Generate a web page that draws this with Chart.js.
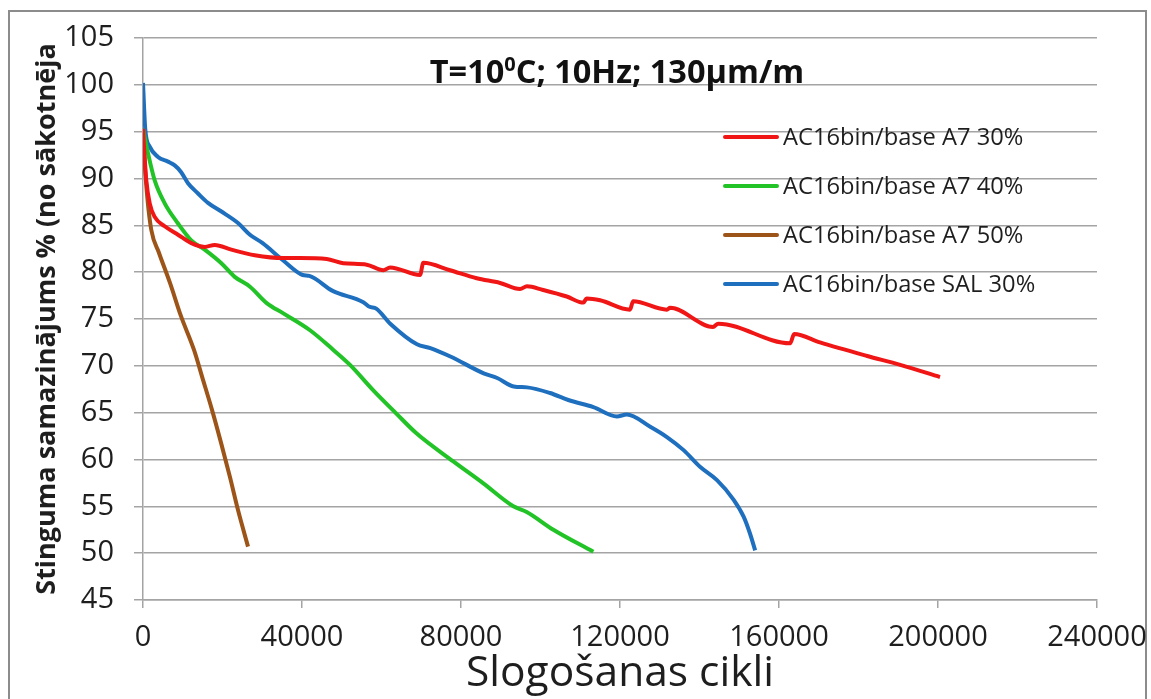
<!DOCTYPE html>
<html>
<head>
<meta charset="utf-8">
<script src="https://cdn.jsdelivr.net/npm/chart.js@4"></script>
<style>
  html, body { margin: 0; padding: 0; background: #ffffff; }
  #wrap { width: 1151px; height: 699px; position: relative; }
</style>
</head>
<body>
<div id="wrap"><canvas id="c" width="1151" height="699"></canvas></div>
<script>
// Stiffness reduction (% of initial) versus loading cycles, four mixes
const seriesLabels = [
  'AC16bin/base A7 30%',
  'AC16bin/base A7 40%',
  'AC16bin/base A7 50%',
  'AC16bin/base SAL 30%'
];
const seriesColors = ['#f01616', '#22c326', '#9c5418', '#1f6fbf'];

const a7_30_cycles = [0, 250, 830, 1690, 2940, 5460, 8810, 12150, 15520, 18040, 22220, 28100, 35300, 39500, 46220, 50400, 56280, 60460, 62150, 69690, 70520, 77240, 83960, 89820, 94850, 96600, 100640, 106600, 110800, 111600, 115000, 122500, 123300, 131800, 132600, 143400, 144700, 162800, 163800, 170300, 182200, 190500, 200500];
const a7_30_values = [95.3, 93.4, 89.8, 87.35, 85.9, 84.9, 84.0, 83.1, 82.7, 82.9, 82.4, 81.8, 81.5, 81.5, 81.4, 80.95, 80.8, 80.2, 80.5, 79.7, 81.0, 80.2, 79.35, 78.85, 78.2, 78.5, 78.1, 77.4, 76.75, 77.2, 77.0, 76.0, 76.9, 76.0, 76.2, 74.15, 74.5, 72.4, 73.4, 72.5, 71.05, 70.1, 68.8];

const a7_40_cycles = [0, 1260, 2940, 5460, 8810, 12150, 15520, 19710, 23070, 26920, 31120, 35300, 42020, 47880, 52080, 58120, 63740, 68780, 78060, 85620, 93170, 96520, 103230, 113290];
const a7_40_values = [95.3, 92.7, 89.8, 87.35, 85.2, 83.4, 82.4, 80.95, 79.5, 78.45, 76.7, 75.6, 73.8, 71.7, 70.1, 67.3, 64.9, 62.8, 59.8, 57.45, 55.0, 54.4, 52.5, 50.15];

const a7_50_cycles = [0, 430, 1080, 2090, 4030, 6790, 9560, 12830, 15100, 17360, 19620, 21890, 23900, 26420];
const a7_50_values = [95.2, 91.6, 88.0, 84.5, 82.05, 78.85, 75.3, 71.7, 68.5, 65.3, 61.8, 58.1, 54.6, 50.7];

const sal_30_cycles = [0, 580, 1690, 3770, 6290, 7980, 9560, 11320, 13840, 16350, 19630, 23900, 26900, 30100, 35130, 40160, 41840, 47710, 55420, 57000, 58670, 62200, 68930, 72290, 77320, 85700, 89100, 93260, 96620, 102400, 107000, 113300, 119200, 121700, 127600, 131800, 136000, 140200, 144400, 148600, 151100, 152700, 154000];
const sal_30_values = [100.2, 95.2, 93.4, 92.3, 91.8, 91.4, 90.7, 89.5, 88.4, 87.4, 86.5, 85.25, 84.0, 83.1, 81.3, 79.7, 79.6, 78.0, 76.8, 76.3, 76.1, 74.5, 72.3, 71.9, 71.0, 69.2, 68.7, 67.8, 67.7, 67.1, 66.35, 65.6, 64.6, 64.8, 63.5, 62.4, 61.0, 59.2, 57.8, 55.7, 53.9, 52.1, 50.3];

const xTicks = [0, 40000, 80000, 120000, 160000, 200000, 240000];
const yTicks = [45, 50, 55, 60, 65, 70, 75, 80, 85, 90, 95, 100, 105];

const chartTitle = { before: 'T=10', sup: '0', after: 'C; 10Hz; 130\u03bcm/m' };
const xTitle = 'Slogošanas cikli';
const yTitle = 'Stinguma samazinājums % (no sākotnēja';

const FONT = '"Open Sans", "Liberation Sans", sans-serif';
const TEXT = '#1e1e1e';
const GRID = '#a4a4a4';

function pairs(xs, ys) { return xs.map((x, i) => ({ x: x, y: ys[i] })); }

const cyclesList = [a7_30_cycles, a7_40_cycles, a7_50_cycles, sal_30_cycles];
const valuesList = [a7_30_values, a7_40_values, a7_50_values, sal_30_values];

const datasets = seriesLabels.map((label, i) => ({
  label: label,
  data: pairs(cyclesList[i], valuesList[i]),
  borderColor: seriesColors[i],
  backgroundColor: seriesColors[i],
  borderWidth: 4,
  pointRadius: 0,
  cubicInterpolationMode: 'monotone',
  fill: false
}));

// Frame, in-plot title and in-plot legend
const decorations = {
  id: 'decorations',
  beforeDraw(chart) {
    const ctx = chart.ctx;
    ctx.save();
    ctx.fillStyle = '#ffffff';
    ctx.fillRect(0, 0, chart.width, chart.height);
    ctx.strokeStyle = '#8c8c8c';
    ctx.lineWidth = 2;
    ctx.strokeRect(9, 11, 1137, 700);
    ctx.restore();
  },
  afterDatasetsDraw(chart) {
    const ctx = chart.ctx;
    ctx.save();
    // title with superscript degree
    ctx.fillStyle = '#111111';
    ctx.textBaseline = 'alphabetic';
    const big = 'bold 32.5px ' + FONT;
    const small = 'bold 20px ' + FONT;
    ctx.font = big;
    const w1 = ctx.measureText(chartTitle.before).width;
    const w3 = ctx.measureText(chartTitle.after).width;
    ctx.font = small;
    const w2 = ctx.measureText(chartTitle.sup).width;
    const total = w1 + w2 + w3;
    let x = 617 - total / 2;
    const base = 83;
    ctx.font = big;
    ctx.fillText(chartTitle.before, x, base);
    x += w1;
    ctx.font = small;
    ctx.fillText(chartTitle.sup, x, base - 12);
    x += w2;
    ctx.font = big;
    ctx.fillText(chartTitle.after, x, base);

    // legend
    const rows = [137, 186, 235, 284];
    ctx.font = '23.7px ' + FONT;
    ctx.textBaseline = 'middle';
    chart.data.datasets.forEach((ds, i) => {
      const y = rows[i];
      ctx.strokeStyle = ds.borderColor;
      ctx.lineWidth = 4;
      ctx.lineCap = 'round';
      ctx.beginPath();
      ctx.moveTo(725, y);
      ctx.lineTo(777, y);
      ctx.stroke();
      ctx.fillStyle = TEXT;
      ctx.fillText(ds.label, 783, y + 1);
    });
    ctx.restore();
  }
};

new Chart(document.getElementById('c'), {
  type: 'line',
  data: { datasets: datasets },
  options: {
    responsive: false,
    animation: false,
    layout: { padding: { top: 38, right: 54, left: 0, bottom: 0 } },
    plugins: { legend: { display: false }, tooltip: { enabled: false }, title: { display: false } },
    scales: {
      x: {
        type: 'linear',
        min: 0,
        max: 240000,
        afterFit(scale) { scale.height = 99; scale.paddingRight = 0; scale.paddingLeft = 0; },
        afterBuildTicks(scale) { scale.ticks = xTicks.map(v => ({ value: v })); },
        grid: { display: true, drawOnChartArea: false, drawTicks: true, tickLength: 8, color: GRID, lineWidth: 1.5 },
        border: { display: true, color: GRID, width: 1.5 },
        ticks: { color: TEXT, font: { family: FONT, size: 29 }, padding: 12, maxRotation: 0, autoSkip: false, callback: v => String(v) },
        title: { display: true, text: xTitle, color: TEXT, font: { family: FONT, size: 42.5 }, padding: { top: 0, bottom: 0 } }
      },
      y: {
        type: 'linear',
        min: 45,
        max: 105,
        afterFit(scale) { scale.width = 143; },
        afterBuildTicks(scale) { scale.ticks = yTicks.map(v => ({ value: v })); },
        grid: { display: true, drawOnChartArea: true, drawTicks: true, tickLength: 9, color: GRID, lineWidth: 1.5 },
        border: { display: true, color: GRID, width: 1.5 },
        ticks: { color: TEXT, font: { family: FONT, size: 29 }, padding: 20, autoSkip: false },
        title: { display: true, text: yTitle, color: TEXT, font: { family: FONT, size: 27, weight: 'bold' }, padding: { top: 31, bottom: 0 } }
      }
    }
  },
  plugins: [decorations]
});
</script>
</body>
</html>
